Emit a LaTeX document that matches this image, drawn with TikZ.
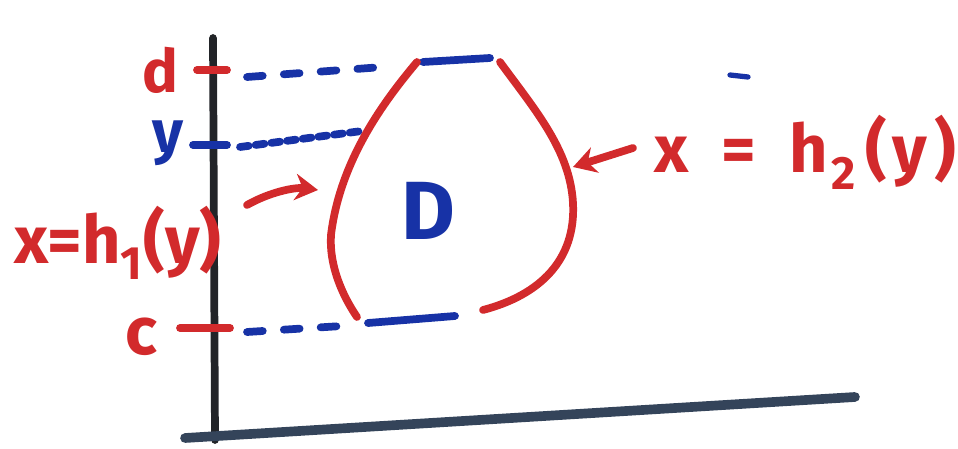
\documentclass[tikz,border=0pt]{standalone}
\usepackage{fontspec}
\setmainfont{Fira Sans}
\usetikzlibrary{arrows.meta}
\definecolor{inkred}{HTML}{D22A2C}
\definecolor{inkblue}{HTML}{1732A6}
\definecolor{inkblack}{HTML}{222428}
\definecolor{inkslate}{HTML}{34445A}
\tikzset{
  every picture/.style={
    line join=round,
    line cap=round,
    >={Stealth[length=13pt,width=15pt]},  % marker-sized arrow tip
  },
  marker/.style={line width=4.4pt},
  redpen/.style={marker, inkred},
  bluepen/.style={marker, inkblue},
  dashpen/.style={bluepen, dash pattern=on 9pt off 12pt},
  lbl/.style={inner sep=0pt, font=\fontsize{34}{34}\selectfont\bfseries},
}

\begin{document}
\begin{tikzpicture}[x=0.02cm, y=-0.02cm]
    \useasboundingbox (0,0) rectangle (958,449);

    % Axes
    \draw[marker, inkblack] (213,38) -- (215,440);
    \draw[line width=5.5pt, inkslate] (185,438) -- (855,397);

    % Levels d, y, c
    \node[lbl, inkred] (dlab) at (160,70) {d};
    \node[lbl, inkblue] (ylab) at (168,143) {y};
    \node[lbl, inkred, font=\fontsize{38}{38}\selectfont\bfseries] (clab) at (141,337) {c};
    \draw[redpen] (197,70) -- (227,70);
    \draw[bluepen] (193,145) -- (227,145);
    \draw[redpen] (180,328) -- (230,328);

    \draw[dashpen] (247,77) -- (383,67);
    \draw[bluepen] (423,62) -- (490,58);
    \draw[bluepen, dash pattern=on 5pt off 4pt] (240,147) -- (362,131);
    \draw[dashpen] (247,332) -- (342,326);
    \draw[bluepen] (368,323) -- (455,316);
    \draw[inkblue, line width=3pt] (730,75) -- (748,77);

    % Region D
    \draw[redpen] (417,62) .. controls (385,100) and (340,160) .. (331,235)
        .. controls (329,265) and (342,295) .. (357,317);
    \draw[redpen] (500,62) .. controls (535,110) and (570,150) .. (573,203)
        .. controls (576,260) and (540,295) .. (483,310);
    \node[lbl, inkblue, font=\fontsize{47}{47}\selectfont\bfseries] (D) at (428,211) {D};

    % Boundary curves
    \node[lbl, inkred, font=\fontsize{38}{38}\selectfont\bfseries] (h1) at (118,243) {x=h\textsubscript{1}(y)};
    \node[lbl, inkred, font=\fontsize{38}{38}\selectfont\bfseries] (h2) at (805,152)
        {x\enspace=\enspace h\kern2pt\textsubscript{2}\kern5pt(\kern3pt y\kern4pt)};
    \coordinate (h1tail) at (247,205);
    \coordinate (h1tip) at (318,190);
    \coordinate (h2tail) at (633,148);
    \coordinate (h2tip) at (573,167);
    \draw[redpen, ->] (h1tail) .. controls (270,192) and (295,187) .. (h1tip);
    \draw[redpen, ->] (h2tail) -- (h2tip);
\end{tikzpicture}
\end{document}
